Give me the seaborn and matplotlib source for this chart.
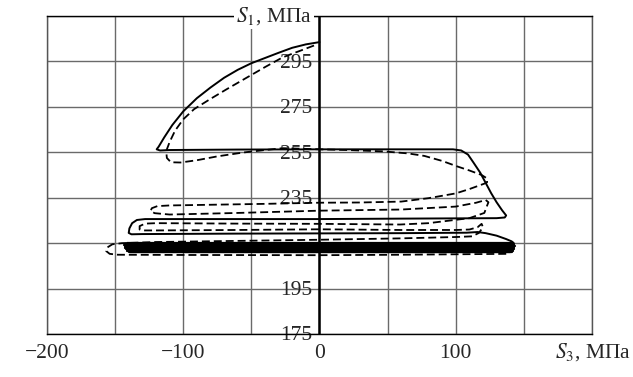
import matplotlib
matplotlib.use("Agg")
import matplotlib.pyplot as plt
import seaborn as sns
import pandas as pd

# значения: S3 (ось x) и S1 (ось y), МПа
solid_s3 = [0, -10, -20, -30, -40, -50, -60, -70, -80, -90, -100, -108, -114, -118, -119.5,
            -117, -110, -60, 0, 60, 98, 104, 109, 113, 118, 122, 126, 130, 134, 137, 136,
            130, 60, 0, -60, -128, -134, -137.5, -139.5, -140, -138, -130, -60, 0, 60,
            108, 116, 122, 130, 137, 141, 142.5, 138]
solid_s1 = [303.5, 302.5, 301, 298.8, 296.5, 294.2, 291.3, 287.8, 283.5, 278.8, 273, 267, 261.5, 257.5, 256.3,
            255.8, 256, 256.2, 256.3, 256.3, 256.3, 255.8, 254, 250.5, 246, 241.5, 237, 233, 229.5, 227.2, 226.3,
            226, 225.8, 225.6, 225.6, 225.6, 225.2, 223.8, 221.5, 219.5, 218.9, 219, 219.2, 219.3, 219.4,
            219.6, 219.9, 219.4, 218.3, 216.8, 215.8, 215.1, 214.9]

dashed_s3 = [-4, -15, -27, -40, -55, -68, -80, -92, -100, -106, -110, -112.5, -112, -109, -102, -90,
             -75, -56, -40, -27, -10, 0, 20, 47, 65, 77, 90, 101, 110, 119, 123, 123,
             121, 110, 100, 80, 60, 30, 0, -40, -80, -110, -119, -123, -124, -121, -110,
             -60, 0, 60, 100, 115, 122, 124,
             123, 121, 110, 80, 59, 0, -60, -120, -128, -132, -132, -129, -120, -60, 0, 59,
             100, 110, 116, 119, 120, 117, 112,
             100, 59, 0, -60, -120, -145, -152, -156, -156.5, -154, -148, -100, 0, 60, 100, 140]
dashed_s1 = [302, 299.5, 296.8, 292.5, 287.3, 282.8, 278.5, 274, 269.5, 264.5, 259.5, 255.5, 252.5, 250.6, 250.5, 251.5,
             253.2, 254.9, 256, 256.8, 256.5, 256.3, 256, 255.4, 254.5, 253.4, 251.2, 248.8, 247, 245, 243.5, 241.8,
             241.2, 238.8, 236.9, 234.8, 233.3, 232.9, 232.8, 232.3, 231.9, 231.6, 231.3, 230.4, 229.2, 228.2, 227.6,
             228.3, 229.3, 229.8, 231.1, 232.8, 234, 233,
             231.5, 228.3, 226, 223.8, 223.2, 223.5, 223.6, 223.8, 223.6, 222.5, 221, 220.6, 220.6, 220.8, 221.1, 220.8,
             220.8, 221, 222, 223.5, 222, 219.5, 218,
             217.7, 217.1, 216.5, 216, 215.5, 215, 214.5, 213, 211.5, 210.3, 209.9, 209.8, 209.7, 209.9, 210.1, 210.3]

# плотный пучок установившихся циклов
band_s1 = [214.9, 214.5, 214.1, 213.7, 213.3, 212.9, 212.5, 212.1, 211.7, 211.3, 210.9]
band_left = [-141, -143, -143.5, -143, -143, -142.5, -142, -141.5, -141, -140, -139]
band_right = [142, 143, 143, 143.5, 143, 143, 142.5, 142, 142, 141, 140]

x_ticks = [-200, -150, -100, -50, 0, 50, 100, 150, 200]
x_labels = ['\u2212200', '', '\u2212100', '', '0', '', '100', '', '']
y_grid = [175, 195, 215, 235, 255, 275, 295, 315]
y_labels = [175, 195, 235, 255, 275, 295]

sns.set_theme(style='white')
plt.rcParams['font.family'] = ['Liberation Serif', 'DejaVu Serif']
plt.rcParams['mathtext.fontset'] = 'stix'

fig = plt.figure(figsize=(6.33, 3.77), dpi=100)
ax = fig.add_axes([0.0742, 0.114, 0.861, 0.8436])

sns.lineplot(x=solid_s3, y=solid_s1, sort=False, estimator=None, color='black',
             linewidth=1.4, ax=ax, zorder=4)
sns.lineplot(x=dashed_s3, y=dashed_s1, sort=False, estimator=None, color='black',
             linewidth=1.3, linestyle=(0, (4.4, 2.2)), ax=ax, zorder=3)

band = pd.DataFrame({
    's3': band_left + band_right,
    's1': band_s1 + band_s1,
    'level': list(range(len(band_s1))) * 2,
})
sns.lineplot(data=band, x='s3', y='s1', units='level', estimator=None, sort=False,
             color='black', linewidth=1.6, ax=ax, zorder=4)

ax.set_xlim(-200, 200)
ax.set_ylim(175, 315)
ax.set_xticks(x_ticks)
ax.set_xticklabels(x_labels, fontsize=15.5)
ax.set_yticks(y_grid)
ax.set_yticklabels([])
ax.tick_params(axis='x', direction='out', length=4, width=1, color='black', pad=3)
ax.tick_params(axis='y', length=0)
ax.grid(True, color='#6a6a6a', linewidth=1.0)
ax.axvline(0, color='black', linewidth=1.8, zorder=2)
ax.set_xlabel('')
ax.set_ylabel('')

for side in ['left', 'right', 'top']:
    ax.spines[side].set_color('#555555')
    ax.spines[side].set_linewidth(1.0)
ax.spines['bottom'].set_color('black')
ax.spines['bottom'].set_linewidth(1.0)
ax.spines['top'].set_color('black')

for v in y_labels:
    ax.text(-5.5, v - 0.8, str(v), ha='right', va='center', fontsize=15.5, zorder=1)

ax.text(-5.5, 315, r'$S_1$, МПа', ha='right', va='center', fontsize=15.5, zorder=6,
        bbox=dict(facecolor='white', edgecolor='none', pad=1.5), clip_on=False)
fig.text(0.996, 0.066, r'$S_3$, МПа', ha='right', va='center', fontsize=15.5)

fig.savefig('out.png', dpi=100, facecolor='white')
